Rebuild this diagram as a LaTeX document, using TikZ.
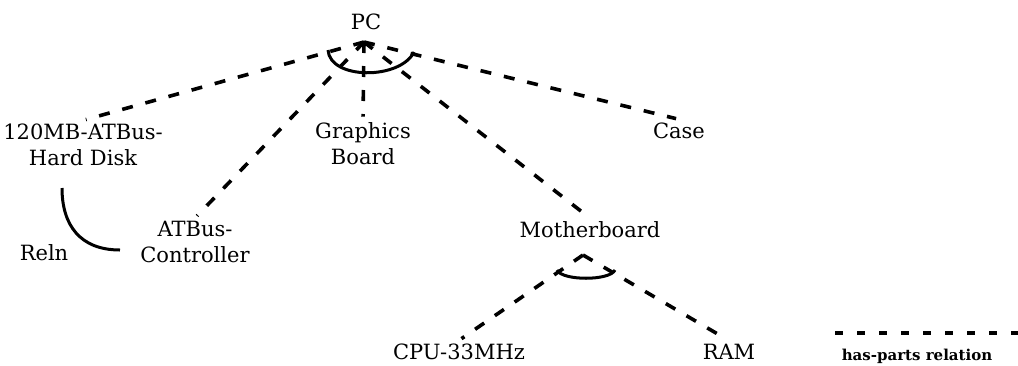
\documentclass[tikz,border=0pt]{standalone}
\usepackage{fontspec}
\setmainfont{DejaVu Serif}
\usetikzlibrary{calc}

\begin{document}
\begin{tikzpicture}[x=1pt, y=-1pt,
  part/.style={font=\fontsize{21}{26}\selectfont, align=center, inner sep=3pt},
  haspart/.style={line width=3.6pt, dash pattern=on 11pt off 13pt, shorten >=3pt},
  relarc/.style={line width=3pt},
]
  \useasboundingbox (0,0) rectangle (1018,365);
  % parts
  \node[part] (pc)   at (366,21.5)  {PC};
  \node[part] (hd)   at (83,144.5)  {120MB-ATBus-\\Hard Disk};
  \node[part] (gb)   at (363,144)   {Graphics\\Board};
  \node[part] (cs)   at (679,130.5) {Case};
  \node[part] (atc)  at (195,242)   {ATBus-\\Controller};
  \node[part] (mb)   at (590,229.5) {Motherboard};
  \node[part] (cpu)  at (459,351.5) {CPU-33MHz};
  \node[part] (ram)  at (729,351.5) {RAM};
  \node[part] (reln) at (44,252.5)  {Reln};
  % junctions below the wholes
  \coordinate (pcj) at (364,42);
  \coordinate (mbj) at (583,255);
  % has-parts links
  \foreach \n in {hd,atc,gb,mb,cs}
    \draw[haspart] (pcj) -- (\n.north);
  \foreach \n in {cpu,ram}
    \draw[haspart] (mbj) -- (\n.north);
  % and-arcs
  \draw[relarc] (328,50) .. controls (330,80) and (400,80) .. (414,52);
  \draw[relarc] (557,270) .. controls (562,281) and (610,281) .. (615,270);
  % Reln between disk and controller
  \coordinate (relA) at (62,188);
  \coordinate (relB) at (120,250);
  \draw[relarc] (relA) .. controls (62,225) and (80,250) .. (relB);
  % legend
  \coordinate (lgA) at (835,333);
  \coordinate (lgB) at (1018,333);
  \draw[line width=3.6pt, dash pattern=on 8pt off 14pt] (lgA) -- (lgB);
  \node[font=\fontsize{15}{17}\selectfont\bfseries] (lgd) at (917,356.5) {has-parts relation};
\end{tikzpicture}
\end{document}
